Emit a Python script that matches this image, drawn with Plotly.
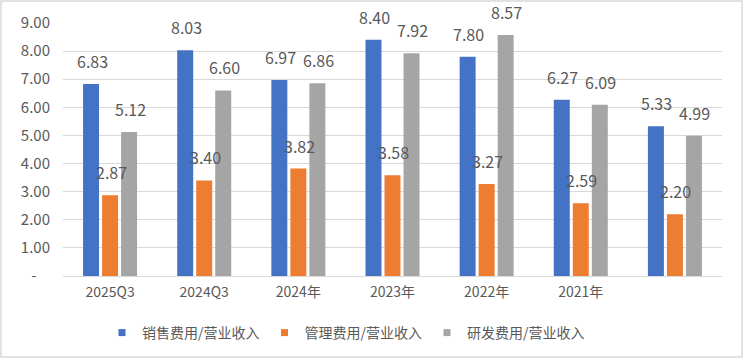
import plotly.graph_objects as go

categories = ["2025Q3", "2024Q3", "2024年", "2023年", "2022年", "2021年", ""]
series_names = ["销售费用/营业收入", "管理费用/营业收入", "研发费用/营业收入"]
sales = [6.83, 8.03, 6.97, 8.40, 7.80, 6.27, 5.33]
admin = [2.87, 3.40, 3.82, 3.58, 3.27, 2.59, 2.20]
rnd = [5.12, 6.60, 6.86, 7.92, 8.57, 6.09, 4.99]
y_ticks = [0, 1, 2, 3, 4, 5, 6, 7, 8, 9]

colors = ["#4472C4", "#ED7D31", "#A5A5A5"]
FONT = "Noto Sans CJK SC, Noto Sans, sans-serif"
TXT = "#595959"

W, H = 744, 360
ML, MR, MT, MB = 63, 22, 23, 84
PW, PH = W - ML - MR, H - MT - MB
BARGAP = 0.394
GROUPGAP = 0.16

x = list(range(len(categories)))
fig = go.Figure()
all_series = [sales, admin, rnd]
for name, vals, c in zip(series_names, all_series, colors):
    fig.add_trace(go.Bar(x=x, y=vals, name=name, marker_color=c,
                         marker_line_width=0, showlegend=False))
# small square legend markers
for name, c in zip(series_names, colors):
    fig.add_trace(go.Scatter(x=[None], y=[None], mode="markers", name=name,
                             marker=dict(symbol="square", size=7, color=c),
                             showlegend=True))

# data labels above bars
slot_px = (PW / len(categories)) * (1 - BARGAP) / len(all_series)
ann = []
for k, vals in enumerate(all_series):
    shift = (k - 1) * slot_px + 1
    for xi, v in zip(x, vals):
        ann.append(dict(x=xi, y=v, xref="x", yref="y", text=f"{v:.2f}",
                        showarrow=False, yanchor="bottom", xanchor="center",
                        xshift=shift, yshift=9,
                        font=dict(family=FONT, size=16, color=TXT)))

ytext = ["-" + "\u00a0" * 4 if t == 0 else f"{t:.2f}" for t in y_ticks]

fig.update_layout(
    width=W, height=H,
    margin=dict(l=ML, r=MR, t=MT, b=MB, autoexpand=False),
    paper_bgcolor="white", plot_bgcolor="white",
    barmode="group", bargap=BARGAP, bargroupgap=GROUPGAP,
    font=dict(family=FONT, size=14, color=TXT),
    annotations=ann,
    showlegend=True,
    legend=dict(orientation="h", xref="container", yref="container",
                x=346 / W, y=(H - 333) / H, xanchor="center", yanchor="middle",
                font=dict(family=FONT, size=14, color=TXT),
                itemwidth=30, traceorder="normal"),
    shapes=[dict(type="rect", xref="paper", yref="paper",
                 x0=(1 - ML) / PW, x1=(742 - ML) / PW,
                 y0=(MT + PH - 357) / PH, y1=(MT + PH - 1) / PH,
                 line=dict(color="#d9d9d9", width=1.5), layer="below")],
)
fig.update_xaxes(tickvals=x, ticktext=categories, range=[-0.5, len(categories) - 0.5],
                 showgrid=False, showline=False, zeroline=False, ticks="",
                 automargin=False,
                 ticklabelstandoff=6, tickfont=dict(size=14, color=TXT))
fig.update_yaxes(range=[0, 9], tickvals=y_ticks, ticktext=ytext,
                 showgrid=True, gridcolor="#d9d9d9", gridwidth=1,
                 zeroline=True, zerolinecolor="#d9d9d9", zerolinewidth=1,
                 showline=False, ticks="", ticklabelstandoff=12,
                 automargin=False,
                 tickfont=dict(size=15, color=TXT))

fig.write_html("out.html", config={"displayModeBar": False},
               post_script="document.body.style.margin='0';document.body.style.overflow='hidden';")
